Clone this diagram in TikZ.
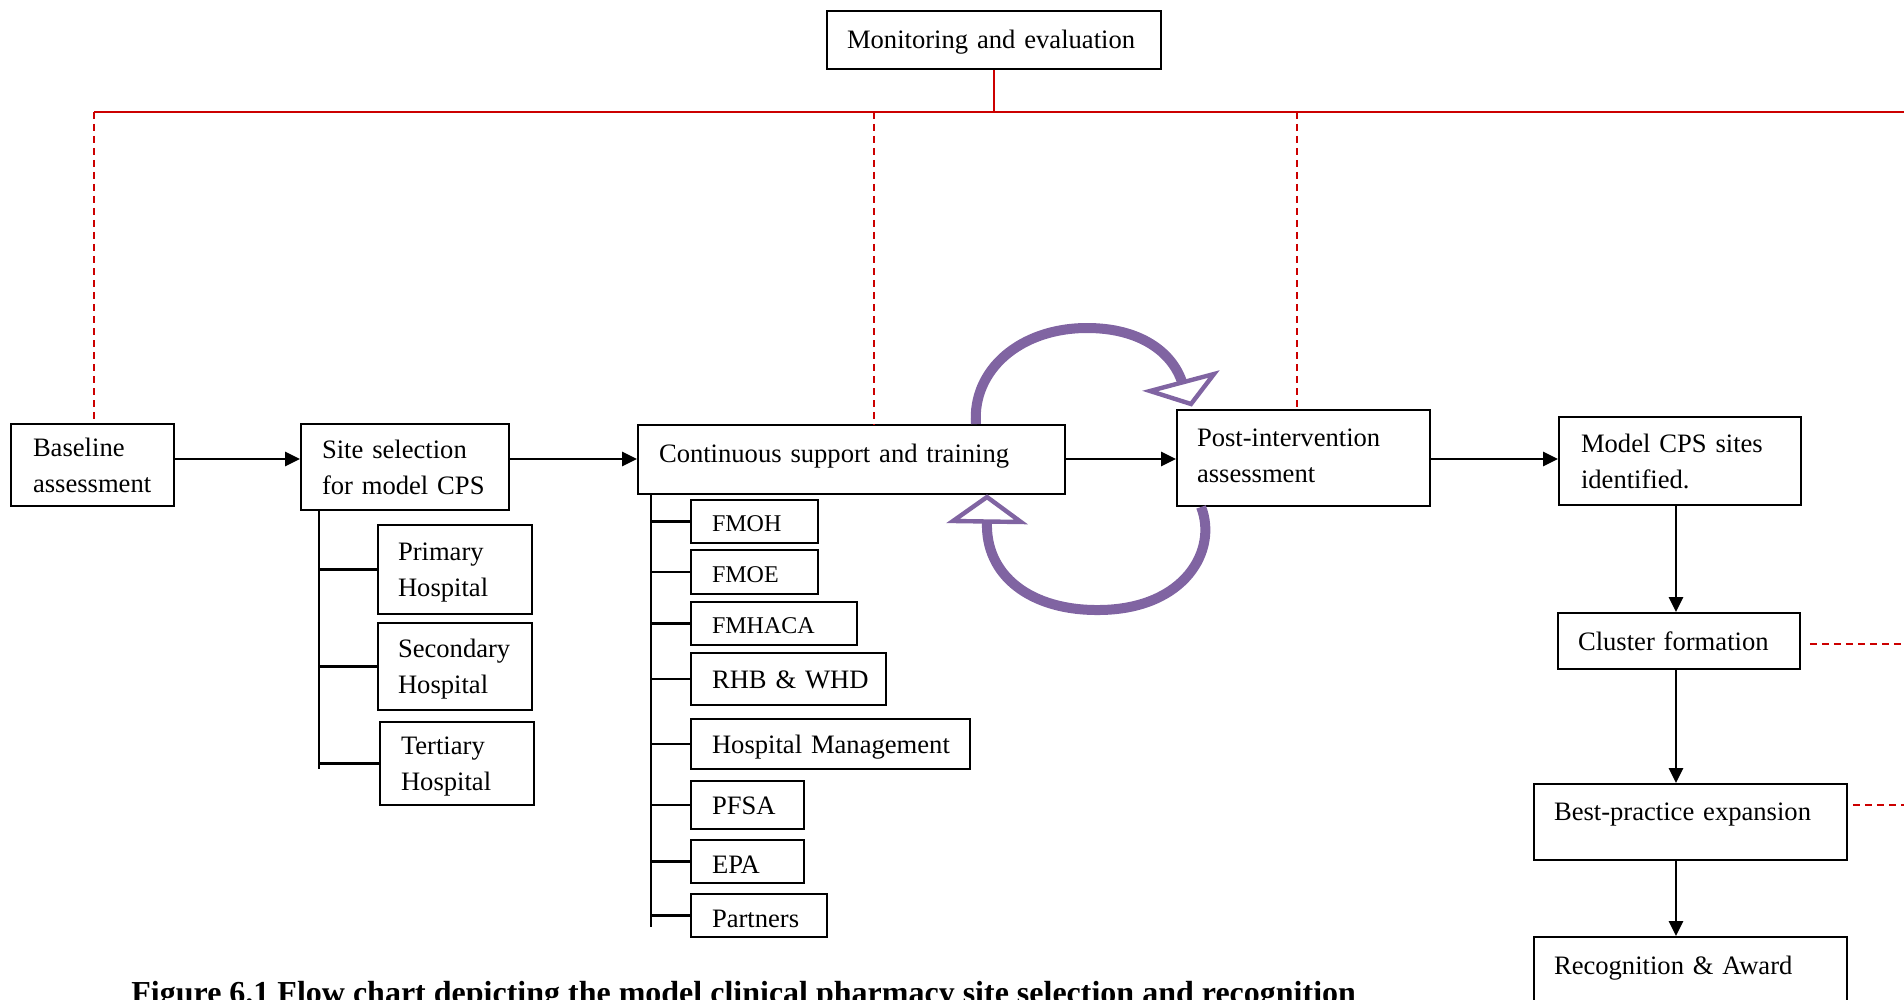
\documentclass[tikz,border=0pt]{standalone}
\usepackage{fontspec}
\setmainfont{Liberation Serif}
\usetikzlibrary{arrows.meta}
\definecolor{purp}{RGB}{128,100,162}
\definecolor{redl}{RGB}{204,0,0}
\newcommand{\bstrut}{\rule[-4.5pt]{0pt}{18pt}}
\newcommand{\lstrut}{\rule[-3pt]{0pt}{18pt}}
\newcommand{\sstrut}{\rule[-3pt]{0pt}{16pt}}
\begin{document}
\begin{tikzpicture}[x=0.5pt,y=-0.5pt,
  basebox/.style={draw, line width=0.95pt, align=left, inner ysep=0pt, anchor=center},
  box/.style={basebox, font=\fontsize{13.3}{18}\selectfont, execute at begin node=\bstrut, execute at end node=\bstrut},
  lbox/.style={basebox, font=\fontsize{13.3}{18}\selectfont, execute at begin node=\lstrut, execute at end node=\lstrut},
  sbox/.style={basebox, font=\fontsize{12}{16}\selectfont, execute at begin node=\sstrut, execute at end node=\sstrut},
  tup/.style={execute at end node={\rule[-#1]{0pt}{#1}}},
  arr/.style={line width=1.4pt, -{Triangle[length=7.5pt,width=7pt]}},
  spine/.style={line width=1.1pt},
  redsolid/.style={draw=redl, line width=0.8pt},
  reddash/.style={draw=redl, line width=0.7pt, dash pattern=on 3.5pt off 2.5pt},
  loopline/.style={draw=purp, line width=5pt},
  loophead/.style={draw=purp, line width=2.2pt, fill=white, line join=miter}
]
\useasboundingbox (0,0) rectangle (1904,1000);
\clip (0,0) rectangle (1904,1000);

% main boxes
\node[box, minimum height=29pt, inner xsep=10pt, text width=147pt] (mon) at (994,40) {Monitoring and evaluation};
\node[box, minimum height=41pt, inner xsep=11pt, text width=59.5pt] (base) at (92.5,465) {Baseline\\assessment};
\node[box, minimum height=43pt, inner xsep=10.5pt, text width=83pt] (site) at (405,467) {Site selection\\for model CPS};
\node[box, minimum height=44.5pt, inner xsep=10pt, text width=57pt] (prim) at (455,569.5) {Primary\\Hospital};
\node[box, minimum height=43.5pt, inner xsep=10pt, text width=57pt] (sec) at (455,666.5) {Secondary\\Hospital};
\node[box, minimum height=41.5pt, inner xsep=10.5pt, text width=56pt] (ter) at (457,763.5) {Tertiary\\Hospital};
\node[box, tup=11pt, minimum height=34.5pt, inner xsep=10.5pt, text width=192.5pt] (cont) at (851.5,459.5) {Continuous support and training};
\node[box, tup=7.5pt, minimum height=48pt, inner xsep=10pt, text width=106.5pt] (post) at (1303.5,458) {Post-intervention\\assessment};
\node[box, minimum height=44pt, inner xsep=11pt, text width=99pt] (model) at (1680,461) {Model CPS sites\\identified.};
\node[box, minimum height=28pt, inner xsep=10pt, text width=101pt] (clus) at (1679,641) {Cluster formation};
\node[box, tup=15.5pt, minimum height=38pt, inner xsep=10pt, text width=136.5pt] (best) at (1690.5,822) {Best-practice expansion};
\node[box, tup=14.5pt, minimum height=38pt, inner xsep=10pt, text width=136.5pt] (recog) at (1690.5,975) {Recognition \& Award};

% stakeholder boxes
\node[sbox, minimum height=21.5pt, inner xsep=10.5pt, text width=42.5pt] (fmoh) at (754.5,521.5) {FMOH};
\node[sbox, minimum height=22pt, inner xsep=10.5pt, text width=42.5pt] (fmoe) at (754.5,572) {FMOE};
\node[sbox, minimum height=21.5pt, inner xsep=10.5pt, text width=62pt] (fmhaca) at (774,623.5) {FMHACA};
\node[box, minimum height=26pt, inner xsep=10.5pt, text width=76.5pt] (rhb) at (788.5,679) {RHB~\&~WHD};
\node[box, minimum height=25pt, inner xsep=10.5pt, text width=118.5pt] (hm) at (830.5,744) {Hospital~Management};
\node[box, minimum height=24pt, inner xsep=10.5pt, text width=35.5pt] (pfsa) at (747.5,805) {PFSA};
\node[lbox, minimum height=21.5pt, inner xsep=10.5pt, text width=35.5pt] (epa) at (747.5,861.5) {EPA};
\node[lbox, minimum height=21.5pt, inner xsep=10.5pt, text width=47pt] (partners) at (759,915.5) {Partners};

% red monitoring lines
\coordinate (hl) at (94,112);
\coordinate (hr) at (1904,112);
\coordinate (d2) at (874,112);
\coordinate (d3) at (1297,112);
\coordinate (re) at (1904,0);
\draw[redsolid] (mon.south) -- (mon.south |- hl);
\draw[redsolid] (hl) -- (hr);
\draw[reddash] (hl) -- (hl |- base.north);
\draw[reddash] (d2) -- (d2 |- cont.north);
\draw[reddash] (d3) -- (d3 |- post.north);
\coordinate (ce) at ([xshift=4.5pt,yshift=-1.5pt]clus.east);
\draw[reddash] (ce) -- (ce -| re);
\coordinate (be) at ([xshift=2.5pt,yshift=8.5pt]best.east);
\draw[reddash] (be) -- (be -| re);

% main flow arrows
\coordinate (ay) at (0,459);
\draw[arr] (base.east |- ay) -- (site.west |- ay);
\draw[arr] (site.east |- ay) -- (cont.west |- ay);
\draw[arr] (cont.east |- ay) -- (post.west |- ay);
\draw[arr] (post.east |- ay) -- (model.west |- ay);
\coordinate (vx) at (1676,0);
\draw[arr] (model.south -| vx) -- (clus.north -| vx);
\draw[arr] (clus.south -| vx) -- (best.north -| vx);
\draw[arr] (best.south -| vx) -- (recog.north -| vx);

% hospital spine
\coordinate (sp1) at (319,769);
\draw[spine] (site.south -| sp1) -- (sp1);
\foreach \n in {prim,sec,ter} \draw[spine] (\n.west) -- (\n.west -| sp1);

% stakeholder spine
\coordinate (sp2) at (651,927);
\draw[spine] (cont.south -| sp2) -- (sp2);
\foreach \n in {fmoh,fmoe,fmhaca,rhb,hm,pfsa,epa,partners} \draw[spine] (\n.west) -- (\n.west -| sp2);

% purple feedback loops
\draw[loopline] ([xshift=-45pt]cont.north east) .. controls (972,370) and (1020,328) .. (1087,328) .. controls (1140,328) and (1172,352) .. (1182,382);
\draw[loophead] (1150,391) -- (1214,374) -- (1191,404) -- cycle;
\draw[loopline] ([xshift=12.5pt]post.south west) .. controls (1218,550) and (1185,609) .. (1100,610) .. controls (1030,611) and (985,575) .. (987,522);
\draw[loophead] (953,521) -- (1021,522) -- (987,497) -- cycle;

% caption
\node[anchor=base west, inner sep=0pt, font=\fontsize{16}{19}\selectfont\bfseries] (cap) at (131,1003) {Figure 6.1 Flow chart depicting the model clinical pharmacy site selection and recognition};
\end{tikzpicture}
\end{document}
